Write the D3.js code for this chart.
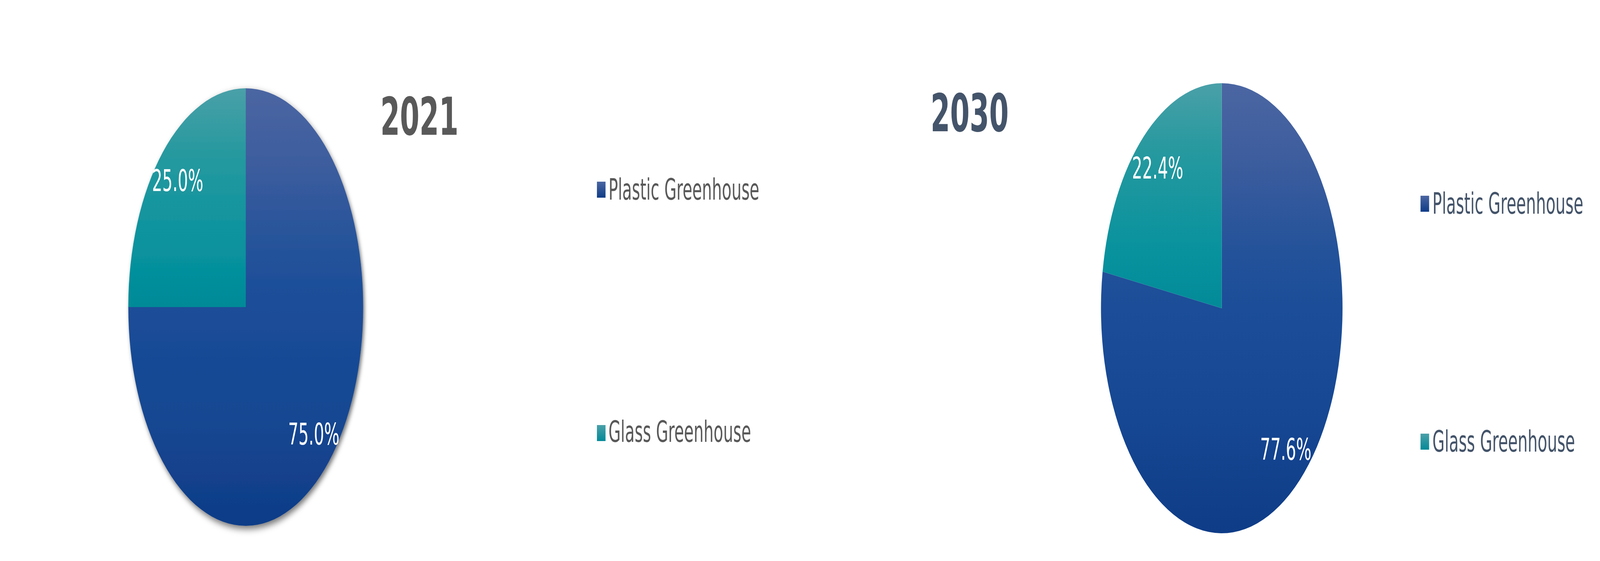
<!DOCTYPE html>
<html>
<head>
<meta charset="utf-8">
<script src="https://cdn.jsdelivr.net/npm/d3@7"></script>
<style>
  html, body { margin: 0; padding: 0; background: #ffffff; overflow: hidden; }
  svg { display: block; width: 100vw; height: 100vh; }
</style>
</head>
<body>
<svg id="chart"></svg>
<script>
// ---- data ----
const years = ["2021", "2030"];
const categories = ["Plastic Greenhouse", "Glass Greenhouse"];
const share2021 = [75.0, 25.0];
const share2030 = [77.6, 22.4];

// ---- layout (design space 7631 x 1436, scaled to the window) ----
const W = 7631, H = 1436;
const svg = d3.select("#chart")
  .attr("viewBox", `0 0 ${W} ${H}`)
  .attr("preserveAspectRatio", "none");
const defs = svg.append("defs");

const panels = [
  { year: years[0], values: share2021, cx: 1172, cy: 786, r: 560, shadow: true,
    titleX: 1814, titleY: 345, titleColor: "#595959",
    legX: 2847, legY: [465, 1088], legSize: 41, legTextX: 2902, legBase: [511, 1131], legColor: "#595959" },
  { year: years[1], values: share2030, cx: 5827, cy: 789, r: 576, shadow: false,
    titleX: 4438, titleY: 336, titleColor: "#44546A",
    legX: 6775, legY: [501, 1110], legSize: 41, legTextX: 6832, legBase: [547, 1156], legColor: "#44546A" }
];

const gradStops = [
  [ // blue
    [0, "#4B66A2"], [0.15, "#3F5E9E"], [0.38, "#23529A"], [0.5, "#1B4D98"], [0.75, "#164792"], [1, "#0F3C87"]
  ],
  [ // teal
    [0, "#4AA0A8"], [0.15, "#26999F"], [0.38, "#07929E"], [0.5, "#038A98"], [0.75, "#02818E"], [1, "#017884"]
  ]
];
const legendStops = [
  [[0, "#4B66A2"], [1, "#0F3C87"]],
  [[0, "#4AA0A8"], [1, "#038A98"]]
];

// drop shadow
const f = defs.append("filter").attr("id", "shadow")
  .attr("x", "-10%").attr("y", "-10%").attr("width", "120%").attr("height", "120%");
f.append("feDropShadow").attr("dx", 6).attr("dy", 8).attr("stdDeviation", 9)
  .attr("flood-color", "#000").attr("flood-opacity", 0.55);

// legend gradients
legendStops.forEach((stops, i) => {
  const g = defs.append("linearGradient").attr("id", "leg" + i)
    .attr("x1", 0).attr("y1", 0).attr("x2", 0).attr("y2", 1);
  stops.forEach(s => g.append("stop").attr("offset", s[0]).attr("stop-color", s[1]));
});

const pie = d3.pie().sort(null).value(d => d).startAngle(0).endAngle(2 * Math.PI);
const fmt = d3.format(".1f");
const font = "Verdana, 'DejaVu Sans', sans-serif";

panels.forEach((p, pi) => {
  // slice gradients spanning the whole pie (group-local coordinates)
  gradStops.forEach((stops, i) => {
    const g = defs.append("linearGradient").attr("id", `g${pi}_${i}`)
      .attr("gradientUnits", "userSpaceOnUse")
      .attr("x1", 0).attr("y1", -p.r).attr("x2", 0).attr("y2", p.r);
    stops.forEach(s => g.append("stop").attr("offset", s[0]).attr("stop-color", s[1]));
  });

  const arc = d3.arc().innerRadius(0).outerRadius(p.r);
  const labelArc = d3.arc().innerRadius(p.r * 0.82).outerRadius(p.r * 0.82);
  const arcs = pie(p.values);

  const g = svg.append("g").attr("transform", `translate(${p.cx},${p.cy})`);
  const sliceG = g.append("g");
  if (p.shadow) sliceG.attr("filter", "url(#shadow)");
  sliceG.selectAll("path").data(arcs).join("path")
    .attr("d", arc)
    .attr("fill", (d, i) => `url(#g${pi}_${i})`);

  g.selectAll("text.lbl").data(arcs).join("text")
    .attr("class", "lbl")
    .attr("x", d => labelArc.centroid(d)[0])
    .attr("y", d => labelArc.centroid(d)[1])
    .attr("dy", "0.36em")
    .attr("text-anchor", "middle")
    .attr("fill", "#ffffff")
    .attr("font-family", font)
    .attr("font-size", 77)
    .text(d => fmt(d.data) + "%");

  // title
  svg.append("text")
    .attr("x", p.titleX).attr("y", p.titleY)
    .attr("fill", p.titleColor)
    .attr("font-family", font)
    .attr("font-weight", "bold")
    .attr("font-size", 134)
    .text(p.year);

  // legend
  categories.forEach((c, i) => {
    svg.append("rect")
      .attr("x", p.legX).attr("y", p.legY[i])
      .attr("width", p.legSize).attr("height", p.legSize)
      .attr("fill", `url(#leg${i})`);
    svg.append("text")
      .attr("x", p.legTextX).attr("y", p.legBase[i])
      .attr("fill", p.legColor)
      .attr("font-family", font)
      .attr("font-size", 75)
      .text(c);
  });
});
</script>
</body>
</html>
